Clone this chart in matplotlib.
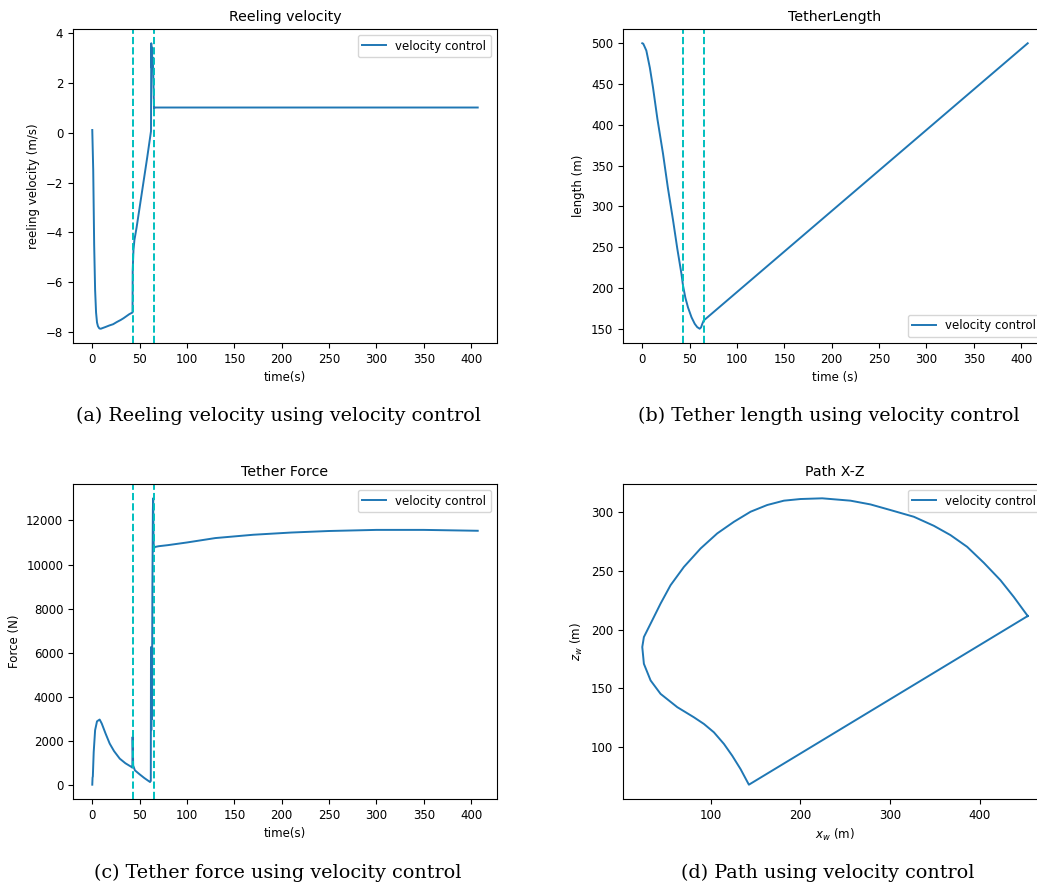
import matplotlib
matplotlib.use("Agg")
import matplotlib.pyplot as plt

# ---------------- data ----------------
t_vel = [0, 1, 2, 3, 4, 5, 6, 7.5, 9, 14, 18, 22, 26, 30, 33, 36, 39, 42.5,
         42.7, 43.5, 44.5, 46.8, 50, 54, 58, 62, 62.3, 62.6, 63.0, 63.4, 63.8,
         64.3, 64.8, 65.2, 66, 407]
v_vel = [0.1, -1.5, -4.5, -6.3, -7.2, -7.6, -7.75, -7.84, -7.85, -7.78, -7.72,
         -7.67, -7.58, -7.50, -7.43, -7.35, -7.27, -7.2,
         -5.5, -4.7, -4.3, -3.8, -3.0, -2.0, -1.0, 0.05, 3.57, 2.6, 3.4, 2.7,
         3.0, 2.5, 1.6, 0.95, 1.0, 1.0]

t_len = [0, 1, 2, 4.3, 8, 11.3, 16, 21.9, 27, 32.5, 37, 41.4, 43, 45.5, 48.3,
         52, 55.4, 58, 60.6, 62, 63.4, 64.8, 407]
L_len = [500, 499.5, 497, 491, 470, 446, 407, 364.6, 323, 283, 248, 217, 203,
         188, 176, 164, 156, 152, 150, 151.5, 156, 160, 500]

t_frc = [0, 0.3, 0.6, 1.5, 3, 5, 7.8, 10, 14, 18.4, 23, 29, 35, 41.5, 42.3,
         42.6, 43.2, 45, 50, 55, 61, 61.8, 62.0, 62.3, 62.6, 63.0, 63.5, 64.0,
         64.3, 64.6, 65.0, 65.5, 70, 80, 100, 130, 170, 210, 250, 300, 350, 407]
F_frc = [30, 350, 400, 1500, 2500, 2900, 2980, 2800, 2350, 1890, 1550, 1210,
         1000, 830, 800, 2190, 900, 680, 500, 330, 150, 200, 6260, 2500, 5500,
         3000, 9000, 12500, 13000, 11500, 10600, 10790, 10830, 10880, 11000,
         11200, 11350, 11450, 11520, 11570, 11570, 11530]

x_path = [453.4, 437.9, 423.0, 404.5, 385.9, 367.3, 348.8, 326.5, 300.5,
          278.2, 255.9, 224.4, 200.2, 181.7, 163.1, 144.6, 126.0, 107.4, 88.9,
          70.3, 55.4, 44.3, 35.0, 25.7, 23.9, 25.7, 33.2, 44.3, 62.9, 81.4,
          92.6, 103.7, 114.9, 124.1, 133.4, 142.7, 453.4]
z_path = [211.5, 227.7, 242.0, 256.8, 270.4, 280.4, 288.3, 296.0, 301.7,
          306.5, 309.7, 311.7, 311.1, 309.7, 306.0, 300.3, 291.7, 281.8, 269.0,
          253.3, 237.7, 222.1, 207.8, 193.6, 185.1, 170.8, 156.6, 145.2, 133.9,
          125.3, 119.6, 112.5, 102.6, 92.6, 81.2, 67.9, 211.5]

phase_lines = [42.5, 65]

titles = ["Reeling velocity", "TetherLength", "Tether Force", "Path X-Z"]
captions = ["(a) Reeling velocity using velocity control",
            "(b) Tether length using velocity control",
            "(c) Tether force using velocity control",
            "(d) Path using velocity control"]

# ---------------- figure ----------------
W, H = 1037, 886
fig = plt.figure(figsize=(W / 100, H / 100), dpi=100)

def ax_at(left, top, right, bottom):
    return fig.add_axes([left / W, 1 - bottom / H, (right - left) / W,
                         (bottom - top) / H])

tick_fs = 8.5
lab_fs = 8.5
title_fs = 10.2
lw = 1.4

axes = [ax_at(73, 29, 497, 343), ax_at(623, 29, 1047, 343),
        ax_at(73, 484, 497, 799), ax_at(623, 484, 1047, 799)]

a, b, c, d = axes
a.plot(t_vel, v_vel, lw=lw, label="velocity control")
a.set_xlabel("time(s)", fontsize=lab_fs)
a.set_ylabel("reeling velocity (m/s)", fontsize=lab_fs)
a.legend(loc="upper right", fontsize=lab_fs)

b.plot(t_len, L_len, lw=lw, label="velocity control")
b.set_xlabel("time (s)", fontsize=lab_fs)
b.set_ylabel("length (m)", fontsize=lab_fs)
b.legend(loc="lower right", fontsize=lab_fs)

c.plot(t_frc, F_frc, lw=lw, label="velocity control")
c.set_xlabel("time(s)", fontsize=lab_fs)
c.set_ylabel("Force (N)", fontsize=lab_fs)
c.legend(loc="upper right", fontsize=lab_fs)

for ax in (a, b, c):
    for x in phase_lines:
        ax.axvline(x, color="c", ls="--", lw=lw)
    ax.set_xticks(range(0, 401, 50))

d.plot(x_path, z_path, lw=lw, label="velocity control")
d.set_xlabel("$x_w$ (m)", fontsize=lab_fs)
d.set_ylabel("$z_w$ (m)", fontsize=lab_fs)
d.legend(loc="upper right", fontsize=lab_fs)

for ax, ttl in zip(axes, titles):
    ax.set_title(ttl, fontsize=title_fs)
    ax.tick_params(labelsize=tick_fs)

cap_fs = 13.8
fig.text(279 / W, 1 - 416 / H, captions[0], ha="center", va="center",
         family="DejaVu Serif", fontsize=cap_fs)
fig.text(829 / W, 1 - 416 / H, captions[1], ha="center", va="center",
         family="DejaVu Serif", fontsize=cap_fs)
fig.text(278 / W, 1 - 873 / H, captions[2], ha="center", va="center",
         family="DejaVu Serif", fontsize=cap_fs)
fig.text(828 / W, 1 - 873 / H, captions[3], ha="center", va="center",
         family="DejaVu Serif", fontsize=cap_fs)

fig.savefig("out.png", dpi=100)
